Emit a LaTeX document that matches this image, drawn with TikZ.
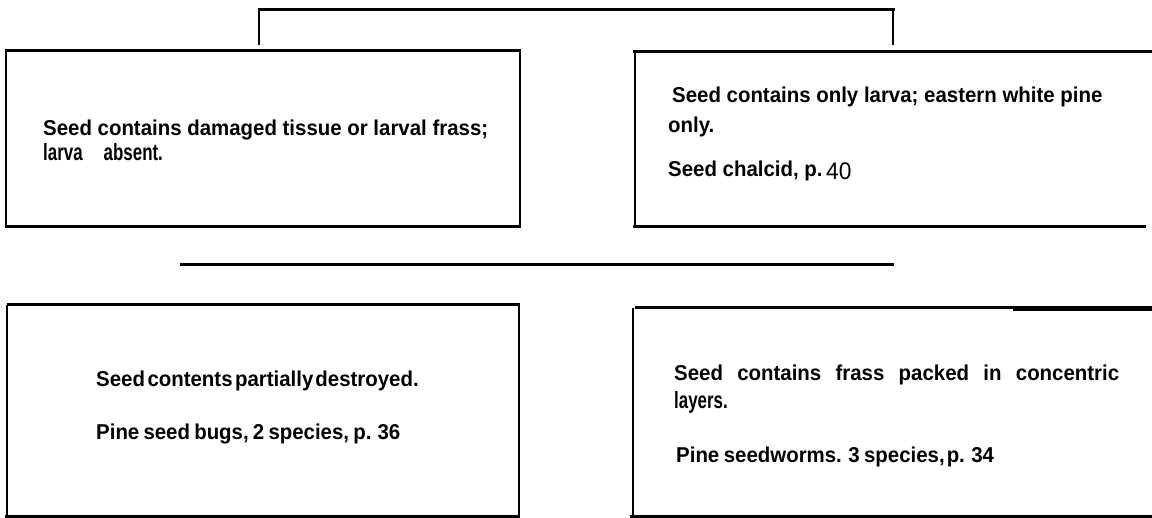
\documentclass[tikz,border=0pt]{standalone}
\usepackage{fontspec}
\setmainfont{Liberation Sans}[FakeStretch=0.95]
\newfontfamily\condfont{Liberation Sans}[FakeStretch=0.72]
\begin{document}
\begin{tikzpicture}[x=1pt,y=-1pt,
  rule/.style={line width=3pt},
  vrule/.style={line width=2.5pt},
  thinrule/.style={line width=1.8pt},
  heavy/.style={line width=5pt},
  txt/.style={anchor=base west,inner sep=0pt,font=\fontsize{21.5}{24}\selectfont\bfseries},
  condtxt/.style={txt,font=\condfont\fontsize{23.5}{24}\selectfont\bfseries}]
\useasboundingbox (0,0) rectangle (1152,518);
% top bracket
\draw[rule] (258,10) -- (895,10);
\draw[vrule] (259,10) -- (259,45);
\draw[vrule] (893,10) -- (893,45);
% box 1
\draw[rule] (5,51) -- (521,51);
\draw[rule] (5,227) -- (521,227);
\draw[vrule] (6,51) -- (6,227);
\draw[thinrule] (520,51) -- (520,227);
% box 2
\draw[rule] (633,52) -- (1152,52);
\draw[rule] (633,227) -- (1146,227);
\draw[vrule] (635,50) -- (635,227);
% middle line
\draw[rule] (180,265) -- (894,265);
% box 3
\draw[rule] (7,305) -- (520,305);
\draw[rule] (5,517) -- (520,517);
\draw[thinrule] (7,305) -- (7,517);
\draw[vrule] (519,305) -- (519,517);
% box 4
\draw[rule] (635,308) -- (1152,308);
\draw[heavy] (1013,309) -- (1152,309);
\draw[rule] (630,517) -- (1152,517);
\draw[vrule] (633,308) -- (633,517);
% texts
\node[txt] (t1a) at (43,136) {Seed contains damaged tissue or larval frass;};
\node[condtxt] (t1b) at (43,161) {larva\hskip 21pt absent.};
\node[txt] (t2a) at (672,103) {Seed contains only larva; eastern white pine};
\node[txt] (t2b) at (668,133) {only.};
\node[txt] (t2c) at (668,177) {Seed chalcid, p.\,\raisebox{-3pt}{\fontsize{24}{24}\mdseries 40}};
\node[txt] (t3a) at (96,387) {Seed\hspace{2.5pt}contents\hspace{2.5pt}partially\hspace{2pt}destroyed.};
\node[txt] (t3b) at (96,440) {\spaceskip=4.2pt Pine seed bugs, 2 species, p. 36};
\node[txt] (t4a) at (674,381) {\makebox[445pt][s]{Seed contains frass packed in concentric}};
\node[condtxt] (t4b) at (674,409) {layers.};
\node[txt] (t4c) at (676,463) {\spaceskip=4.5pt Pine seedworms. 3 species,\hskip2pt p. 34};
\end{tikzpicture}
\end{document}
